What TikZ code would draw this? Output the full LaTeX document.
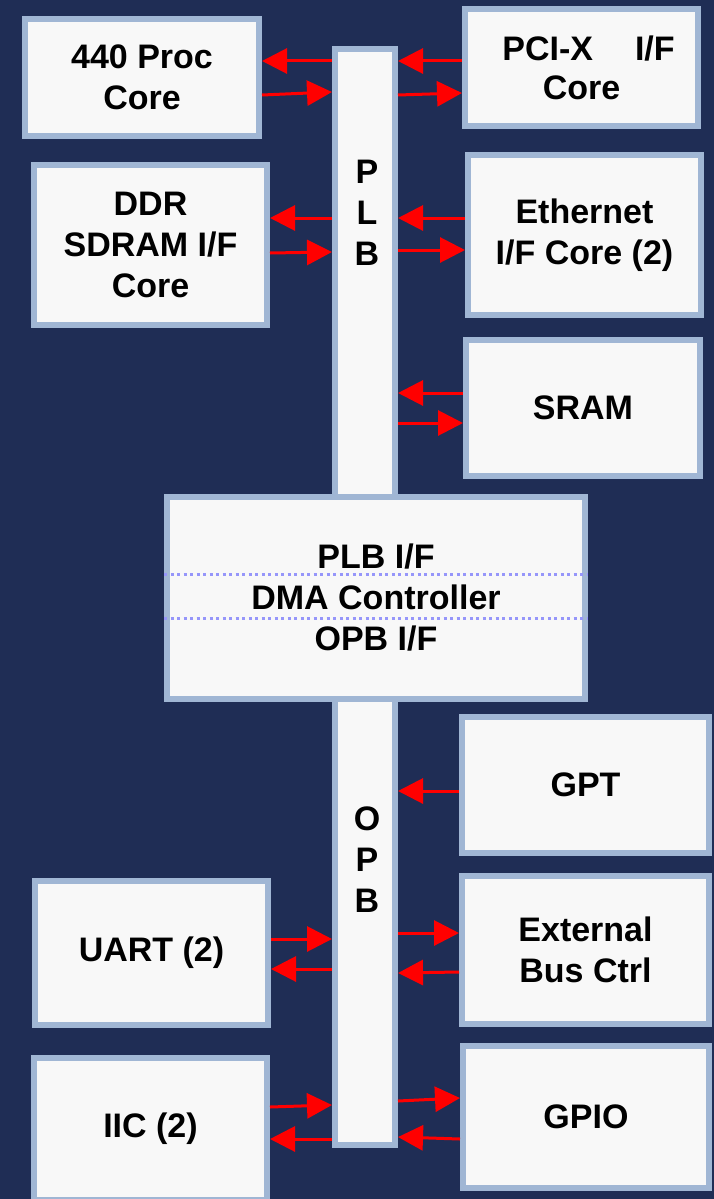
\documentclass[tikz,border=0pt]{standalone}
\usepackage{fontspec}
\setmainfont{Liberation Sans}
\usetikzlibrary{arrows.meta}
\definecolor{bgnavy}{RGB}{31,45,85}
\definecolor{bordblue}{RGB}{160,182,212}
\definecolor{boxfill}{RGB}{248,248,248}
\definecolor{dotblue}{RGB}{150,150,250}
\definecolor{arrred}{RGB}{255,0,0}
\tikzset{
  blk/.style={draw=bordblue, line width=6pt, fill=boxfill, inner sep=0pt,
    align=center, text=black, font=\fontsize{34}{41}\selectfont\bfseries},
  lbl/.style={font=\fontsize{34}{41}\selectfont\bfseries, align=center, inner sep=0pt},
  arr/.style={draw=arrred, line width=3pt, -{Triangle[length=25pt,width=25pt]}},
  sep/.style={draw=dotblue, line width=3pt, dash pattern=on 3pt off 3.5pt},
}
\begin{document}
\begin{tikzpicture}[x=1pt,y=-1pt]
\useasboundingbox (0,0) rectangle (714,1199);
\fill[bgnavy] (0,0) rectangle (714,1199);

% bus bars
\node[blk, minimum width=60pt, minimum height=448pt] (plb) at (365,273) {};
\node[blk, minimum width=60pt, minimum height=446pt] (opb) at (365,922) {};
\node[lbl] (plbl) at (367,213) {P\\L\\B};
\node[lbl] (opbl) at (367,860) {O\\P\\B};

% boxes
\node[blk, minimum width=234pt, minimum height=117pt] (proc) at (142,77.5) {440 Proc\\Core};
\node[blk, minimum width=233pt, minimum height=117pt] (pci) at (581.5,67.5) {\hspace*{14pt}PCI-X\hspace{42pt}I/F\\[-2pt]Core};
\node[blk, minimum width=233pt, minimum height=160pt] (ddr) at (150.5,245) {DDR\\SDRAM I/F\\Core};
\node[blk, minimum width=233pt, minimum height=160pt] (eth) at (584.5,235) {Ethernet\\I/F Core (2)};
\node[blk, minimum width=234pt, minimum height=136pt] (sram) at (583,408) {SRAM};
\node[blk, minimum width=418pt, minimum height=202pt] (dma) at (376,598) {PLB I/F\\DMA Controller\\OPB I/F};
\node[blk, minimum width=247pt, minimum height=136pt] (gpt) at (585.5,785) {GPT};
\node[blk, minimum width=247pt, minimum height=148pt] (ext) at (585.5,950) {External\\Bus Ctrl};
\node[blk, minimum width=246pt, minimum height=142pt] (gpio) at (586,1117) {GPIO};
\node[blk, minimum width=233pt, minimum height=144pt] (uart) at (151.5,953) {UART (2)};
\node[blk, minimum width=233pt, minimum height=142pt] (iic) at (150.5,1129) {IIC (2)};

% dotted separators in DMA box
\draw[sep] (dma.west |- 0,574) -- (dma.east |- 0,574);
\draw[sep] (dma.west |- 0,618) -- (dma.east |- 0,618);

% arrows PLB
\draw[arr] (plb.west |- 0,61) -- (proc.east |- 0,61);
\draw[arr] (proc.east |- 0,95) -- (plb.west |- 0,92);
\draw[arr] (pci.west |- 0,61) -- (plb.east |- 0,61);
\draw[arr] (plb.east |- 0,95) -- (pci.west |- 0,93);
\draw[arr] (plb.west |- 0,218) -- (ddr.east |- 0,218);
\draw[arr] (ddr.east |- 0,253) -- (plb.west |- 0,252);
\draw[arr] (eth.west |- 0,218) -- (plb.east |- 0,218);
\draw[arr] (plb.east |- 0,250) -- (eth.west |- 0,250);
\draw[arr] (sram.west |- 0,393) -- (plb.east |- 0,393);
\draw[arr] (plb.east |- 0,423) -- (sram.west |- 0,423);

% arrows OPB
\draw[arr] (gpt.west |- 0,791) -- (opb.east |- 0,791);
\draw[arr] (uart.east |- 0,939) -- (opb.west |- 0,939);
\draw[arr] (opb.west |- 0,969) -- (uart.east |- 0,969);
\draw[arr] (opb.east |- 0,933) -- (ext.west |- 0,933);
\draw[arr] (ext.west |- 0,972) -- (opb.east |- 0,973);
\draw[arr] (iic.east |- 0,1107) -- (opb.west |- 0,1105);
\draw[arr] (opb.west |- 0,1139) -- (iic.east |- 0,1139);
\draw[arr] (opb.east |- 0,1101) -- (gpio.west |- 0,1098);
\draw[arr] (gpio.west |- 0,1139) -- (opb.east |- 0,1137);
\end{tikzpicture}
\end{document}
